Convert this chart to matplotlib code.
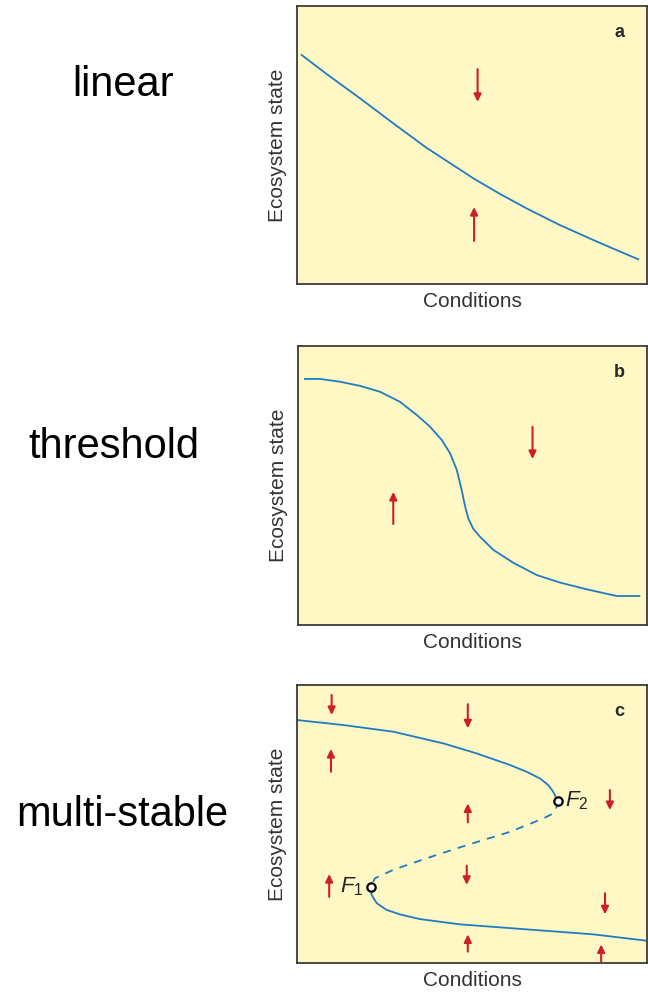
import matplotlib
matplotlib.use("Agg")
import matplotlib.pyplot as plt

plt.rcParams['font.family'] = ['Liberation Sans', 'DejaVu Sans']
plt.rcParams['mathtext.fontset'] = 'custom'
plt.rcParams['mathtext.it'] = 'Liberation Sans:italic'
plt.rcParams['mathtext.rm'] = 'Liberation Sans'

# panel a : linear response
lin_x = [0.13, 0.85, 1.80, 2.75, 3.70, 5.04, 5.80, 6.56, 7.51, 8.47, 9.13, 9.75]
lin_y = [8.24, 7.55, 6.68, 5.78, 4.90, 3.80, 3.24, 2.72, 2.12, 1.58, 1.22, 0.89]
lin_arrow_x = [5.16, 5.06]
lin_arrow_from = [7.73, 1.55]
lin_arrow_to = [6.55, 2.77]

# panel b : threshold response
thr_x = [0.20, 0.63, 1.20, 1.78, 2.35, 2.92, 3.40, 3.78, 4.12, 4.36, 4.55,
         4.69, 4.79, 4.88, 5.02, 5.21, 5.60, 6.17, 6.84, 7.51, 8.27, 9.13, 9.78]
thr_y = [8.82, 8.82, 8.72, 8.57, 8.36, 8.00, 7.53, 7.11, 6.63, 6.15, 5.56,
         4.84, 4.24, 3.82, 3.45, 3.17, 2.69, 2.23, 1.79, 1.52, 1.28, 1.04, 1.04]
thr_arrow_x = [6.72, 2.73]
thr_arrow_from = [7.10, 3.62]
thr_arrow_to = [5.95, 4.77]

# panel c : multiple stable states (fold bifurcation)
up_x = [0.00, 1.32, 2.75, 4.18, 5.13, 6.09, 6.56, 6.94, 7.18, 7.32, 7.45]
up_y = [8.74, 8.56, 8.32, 7.90, 7.54, 7.12, 6.88, 6.64, 6.40, 6.16, 5.84]
mid_x = [7.45, 7.42, 7.32, 7.04, 6.09, 4.85, 3.71, 2.75, 2.23, 2.10]
mid_y = [5.84, 5.62, 5.38, 5.20, 4.72, 4.24, 3.77, 3.35, 3.05, 2.75]
low_x = [2.10, 2.13, 2.28, 2.56, 2.94, 3.51, 4.66, 6.56, 8.47, 10.0]
low_y = [2.75, 2.45, 2.15, 1.91, 1.75, 1.58, 1.39, 1.21, 1.03, 0.80]
fold_x = [7.45, 2.10]
fold_y = [5.84, 2.75]
fold_labels = ['$F_2$', '$F_1$']
ms_arrow_x = [0.99, 4.88, 0.97, 4.88, 8.94, 0.92, 4.85, 8.80, 4.88, 8.69]
ms_arrow_from = [9.64, 9.31, 6.88, 5.06, 6.22, 2.38, 3.50, 2.51, 0.41, 0.05]
ms_arrow_to = [8.92, 8.44, 7.70, 5.74, 5.50, 3.20, 2.81, 1.75, 1.03, 0.67]

panel_names = ['linear', 'threshold', 'multi-stable']
panel_letters = ['a', 'b', 'c']

W, H = 648, 993
fig = plt.figure(figsize=(W / 100, H / 100), dpi=100)

# axes boxes in pixels: left, top, right, bottom
boxes = [(297, 6, 647, 284), (298, 346, 647, 625), (297, 685, 647, 963)]
name_pos = [(123, 85), (114, 447), (122, 815)]

bg = '#fff7c4'
blue = '#1f7cc4'
red = '#cc1f2a'
edge = '#3a3a3a'


def arrows(ax, xs, y0s, y1s):
    for x, y0, y1 in zip(xs, y0s, y1s):
        ax.annotate('', xy=(x, y1), xytext=(x, y0),
                    arrowprops=dict(arrowstyle='-|>,head_length=0.45,head_width=0.22',
                                    color=red, lw=1.5, shrinkA=0, shrinkB=0))


axes = []
for (l, t, r, b), letter in zip(boxes, panel_letters):
    ax = fig.add_axes([l / W, 1 - b / H, (r - l) / W, (b - t) / H])
    ax.set_facecolor(bg)
    ax.set_xlim(0, 10)
    ax.set_ylim(0, 10)
    ax.set_xticks([])
    ax.set_yticks([])
    for s in ax.spines.values():
        s.set_color(edge)
        s.set_linewidth(1.3)
    ax.set_xlabel('Conditions', fontsize=15, color='#333333', labelpad=6)
    ax.set_ylabel('Ecosystem state', fontsize=15, color='#333333', labelpad=7)
    ax.text(0.935, 0.935, letter, transform=ax.transAxes, fontsize=13,
            fontweight='bold', color='#2a2a2a', ha='right', va='top')
    axes.append(ax)

ax_a, ax_b, ax_c = axes

ax_a.plot(lin_x, lin_y, color=blue, lw=1.3)
arrows(ax_a, lin_arrow_x, lin_arrow_from, lin_arrow_to)

ax_b.plot(thr_x, thr_y, color=blue, lw=1.3)
arrows(ax_b, thr_arrow_x, thr_arrow_from, thr_arrow_to)

ax_c.plot(up_x, up_y, color=blue, lw=1.3)
ax_c.plot(mid_x, mid_y, color=blue, lw=1.3, dashes=(4.5, 4))
ax_c.plot(low_x, low_y, color=blue, lw=1.3)
arrows(ax_c, ms_arrow_x, ms_arrow_from, ms_arrow_to)
ax_c.plot(fold_x, fold_y, 'o', ms=6, mfc='white', mec='black', mew=1.6, zorder=5)
ax_c.text(fold_x[0] + 0.2, fold_y[0], fold_labels[0], fontsize=16,
          color='#222222', ha='left', va='center')
ax_c.text(fold_x[1] - 0.2, fold_y[1], fold_labels[1], fontsize=16,
          color='#222222', ha='right', va='center')

for name, (x, y) in zip(panel_names, name_pos):
    fig.text(x / W, 1 - y / H, name, fontsize=30, ha='center', va='center',
             color='black')

fig.savefig('out.png', dpi=100)
